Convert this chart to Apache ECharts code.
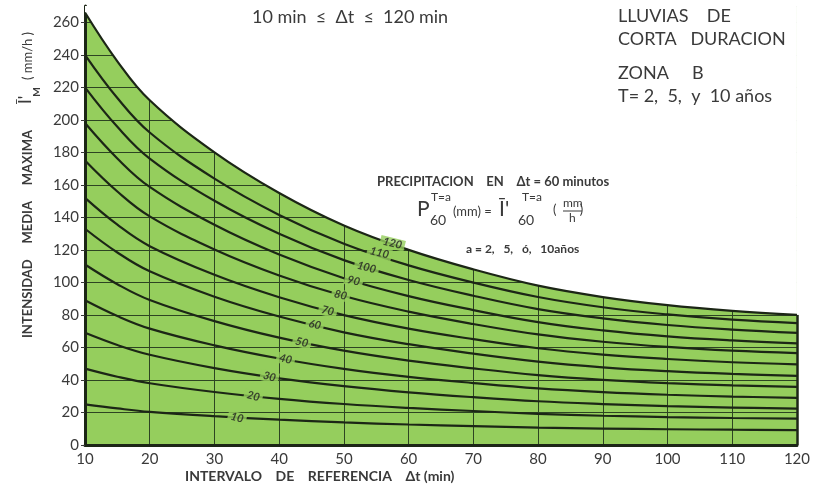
<!DOCTYPE html>
<html>
<head>
<meta charset="utf-8">
<title>Lluvias de corta duracion - Zona B</title>
<script src="https://cdn.jsdelivr.net/npm/echarts@6/dist/echarts.min.js"></script>
<style>
  html, body { margin: 0; padding: 0; background: #fff; }
  #chart { width: 813px; height: 493px; }
</style>
</head>
<body>
<div id="chart"></div>
<script>
// intervalo de referencia (min)
const xs = [10, 15, 20, 30, 40, 50, 60, 70, 80, 90, 100, 110, 120]

// intensidad media maxima (mm/h) por curva P60
const c10 = [25, 22.5, 20.4, 17.7, 15.6, 13.9, 12.6, 11.6, 10.7, 10.1, 9.7, 9.4, 9.2]
const c20 = [47, 42, 38, 32.6, 28.4, 25.2, 22.8, 20.9, 19.2, 18, 17.2, 16.6, 16.2]
const c30 = [69, 61.5, 55.5, 47.3, 41, 36.2, 32.4, 29.4, 26.9, 25.2, 23.9, 23, 22.4]
const c40 = [89, 79.3, 71.6, 61.3, 53.2, 46.8, 41.9, 38.1, 34.8, 32.5, 30.9, 29.8, 29]
const c50 = [111, 98.9, 89.2, 76.2, 66, 58, 51.9, 47.1, 43, 40.1, 38.1, 36.7, 35.7]
const c60 = [133, 118.4, 106.8, 91.2, 79, 69.3, 62, 56.2, 51.3, 47.8, 45.4, 43.7, 42.5]
const c70 = [152, 135.5, 122.3, 104.7, 90.9, 79.9, 71.6, 65.1, 59.5, 55.6, 52.9, 50.9, 49.6]
const c80 = [175, 155.9, 140.6, 120.3, 104.3, 91.6, 82, 74.4, 68, 63.5, 60.3, 58, 56.5]
const c90 = [198, 176.2, 158.7, 135.4, 117.1, 102.6, 91.6, 83, 75.6, 70.5, 66.8, 64.3, 62.5]
const c100 = [220, 195.7, 176.2, 150.2, 129.9, 113.7, 101.5, 91.8, 83.6, 77.9, 73.8, 71, 69]
const c110 = [240, 213.4, 192.2, 163.8, 141.5, 123.8, 110.5, 99.9, 91, 84.7, 80.3, 77.1, 75]
const c120 = [266, 236, 212, 180, 155, 135, 120, 108, 98, 91, 86, 82.5, 80]

const curveNames = ['10', '20', '30', '40', '50', '60', '70', '80', '90', '100', '110', '120']
const curves = [c10, c20, c30, c40, c50, c60, c70, c80, c90, c100, c110, c120]

// posicion de las etiquetas sobre cada curva
const labelX = [33.5, 36, 38.5, 41, 43.5, 45.5, 47.5, 49.5, 51.5, 53.5, 55.5, 57.5]
const labelY = [16.8, 30, 42, 52.8, 63.2, 74, 82.5, 92.2, 101, 109.2, 118.2, 124]

const GREEN = '#95ce5d'
const INK = '#1c2616'
const GRIDC = '#2d4422'
const TXT = '#3a3a3a'
const FONT = 'Lato, "Noto Sans", sans-serif'

const chart = echarts.init(document.getElementById('chart'))

const pairs = arr => arr.map((v, i) => [xs[i], v])

// ultima linea vertical (x=120) invisible, el borde se dibuja con markLine
const xSplitColors = xs.filter(v => v % 10 === 0).map((v, i, a) => i === a.length - 1 ? 'rgba(0,0,0,0)' : GRIDC)

const series = []

// mascara blanca por encima de la curva superior
series.push({
  type: 'line',
  data: pairs(c120),
  smooth: 0.4,
  symbol: 'none',
  silent: true,
  z: 2,
  lineStyle: { width: 0 },
  areaStyle: { color: '#ffffff', opacity: 1, origin: 'end' },
  markLine: {
    silent: true,
    symbol: 'none',
    label: { show: false },
    lineStyle: { color: INK, width: 2.5, type: 'solid' },
    data: [[{ coord: [xs[xs.length - 1], 0] }, { coord: [xs[xs.length - 1], c120[c120.length - 1]] }]]
  }
})

curves.forEach((c, i) => {
  series.push({
    name: curveNames[i],
    type: 'line',
    data: pairs(c),
    smooth: 0.4,
    symbol: 'none',
    z: 3,
    clip: false,
    lineStyle: { color: INK, width: 2.2 }
  })
})

// etiquetas de curva
series.push({
  type: 'scatter',
  symbolSize: 0,
  z: 5,
  data: curveNames.map((n, i) => [labelX[i], labelY[i], n]),
  label: {
    show: true,
    position: 'inside',
    formatter: p => p.value[2],
    fontFamily: FONT,
    fontStyle: 'italic',
    fontWeight: 'bold',
    fontSize: 11,
    color: '#222',
    backgroundColor: GREEN,
    padding: [0, 3],
    rotate: -14
  }
})

const T = (left, top, text, size, extra) => Object.assign({
  type: 'text', left: left, top: top, z: 20,
  style: { text: text, font: size + 'px ' + FONT, fill: TXT }
}, extra || {})

const V = (x, y, text, font) => ({
  type: 'text', x: x, y: y, rotation: Math.PI / 2, z: 20,
  style: { text: text, font: font, fill: TXT, align: 'center', verticalAlign: 'middle' }
})

chart.setOption({
  animation: false,
  backgroundColor: '#ffffff',
  grid: {
    show: true,
    left: 85,
    right: 13,
    top: 6,
    bottom: 48,
    backgroundColor: GREEN,
    borderWidth: 0
  },
  xAxis: {
    type: 'value',
    min: 10,
    max: 120,
    interval: 10,
    axisLine: { show: true, onZero: false, lineStyle: { color: INK, width: 3 } },
    axisTick: { show: false },
    splitLine: { show: true, lineStyle: { color: xSplitColors, width: 1 } },
    axisLabel: { color: TXT, fontFamily: FONT, fontSize: 15, margin: 7 }
  },
  yAxis: {
    type: 'value',
    min: 0,
    max: 270,
    interval: 20,
    axisLine: { show: true, lineStyle: { color: INK, width: 3 } },
    axisTick: { show: true, length: 4, lineStyle: { color: TXT } },
    splitLine: { show: true, lineStyle: { color: GRIDC, width: 1 } },
    axisLabel: { color: TXT, fontFamily: FONT, fontSize: 15, margin: 6, showMaxLabel: false }
  },
  series: series,
  graphic: [
    T(252, 8, '10 min  ≤  Δt  ≤  120 min', 18),
    T(618, 7, 'LLUVIAS    DE', 18),
    T(618, 30, 'CORTA   DURACION', 18),
    T(618, 64, 'ZONA     B', 18),
    T(618, 87, 'T= 2,  5,  y  10 años', 18),
    T(377, 175, 'PRECIPITACION    EN    Δt = 60 minutos', 13, { style: { text: 'PRECIPITACION    EN    Δt = 60 minutos', font: 'bold 13px ' + FONT, fill: TXT } }),
    T(417, 199, 'P', 21),
    T(431, 191, 'T=a', 12),
    T(430, 213, '60', 14),
    T(453, 205, '(mm) =', 13),
    T(499, 199, 'Ī\'', 21),
    T(522, 191, 'T=a', 12),
    T(518, 213, '60', 14),
    T(553, 203, '(       )', 13),
    T(563, 197, 'mm', 12),
    { type: 'line', z: 20, shape: { x1: 563, y1: 211, x2: 582, y2: 211 }, style: { stroke: TXT, lineWidth: 1 } },
    T(569, 212, 'h', 12),
    T(466, 243, 'a = 2,  5,  ó,  10años', 12, { style: { text: 'a = 2,   5,   ó,   10años', font: 'bold 12px ' + FONT, fill: TXT } }),
    T(185, 469, 'INTERVALO   DE   REFERENCIA   Δt (min)', 14, { style: { text: 'INTERVALO    DE    REFERENCIA    Δt (min)', font: 'bold 14px ' + FONT, fill: TXT } }),
    V(28, 234, 'INTENSIDAD     MEDIA     MAXIMA', 'bold 13px ' + FONT),
    V(26, 100, 'Ī\'', '17px ' + FONT),
    V(37, 92, 'M', 'bold 10px ' + FONT),
    V(28, 56, '( mm/h )', '13px ' + FONT)
  ]
})
</script>
</body>
</html>
